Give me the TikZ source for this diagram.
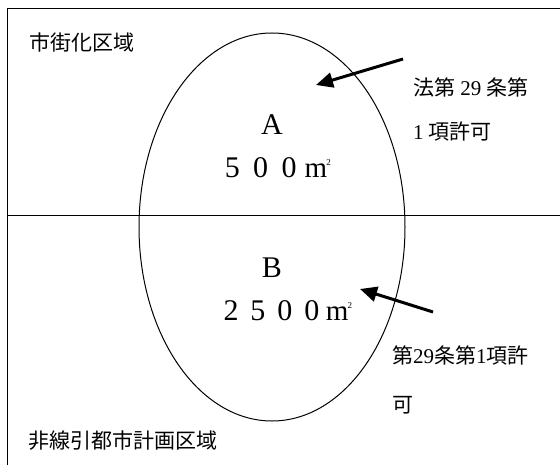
\documentclass[tikz,border=0pt]{standalone}
\usepackage{fontspec}
\setmainfont{Liberation Serif}
\newfontfamily\jp{Noto Sans CJK JP}
\usetikzlibrary{arrows.meta,shapes.geometric}
\newcommand\fwbox[2]{\makebox[#1]{#2}}
\newcommand\sqm[1]{\makebox[#1]{{\fontsize{29}{32}\selectfont m}\kern-1pt\raisebox{12pt}{\fontsize{9}{10}\selectfont 2}}}
\newcommand\lat[1]{{\rmfamily #1}}
\begin{document}
\begin{tikzpicture}[x=1pt,y=-1pt,
  jptext/.style={inner sep=0pt, anchor=west, font=\fontsize{21}{25}\selectfont\jp},
  bigtext/.style={inner sep=0pt, font=\fontsize{30}{34}\selectfont\rmfamily},
  pointer/.style={line width=3pt, -{Triangle[length=17pt,width=15pt]}},
  frameline/.style={line width=1.5pt}]
\useasboundingbox (0,0) rectangle (560,465);
\fill[white] (0,0) rectangle (560,465);
\coordinate (tl) at (7.5,8.5);
\coordinate (tr) at (561,8.5);
\coordinate (bl) at (7.5,466);
\coordinate (ml) at (7.5,215.5);
\coordinate (mr) at (561,215.5);
\draw[frameline] (bl) -- (tl) -- (tr);
\draw[frameline] (ml) -- (mr);
\node[draw, ellipse, inner sep=0pt, minimum width=266pt, minimum height=388pt, line width=1pt] (site) at (272,227) {};
\node[jptext] (shigai) at (29,43) {市街化区域};
\node[jptext] (hisen) at (28,441) {非線引都市計画区域};
\node[bigtext] (A) at (272,125) {A};
\node[bigtext] (areaA) at (275,168) {\fwbox{28.5pt}{5}\fwbox{28.5pt}{0}\fwbox{28.5pt}{0}\sqm{28.5pt}};
\node[bigtext] (B) at (272,268) {B};
\node[bigtext] (areaB) at (285,311) {\fwbox{27pt}{2}\fwbox{27pt}{5}\fwbox{27pt}{0}\fwbox{27pt}{0}\sqm{27pt}};
\node[jptext] (law1) at (413,87) {法第\lat{ 29 }条第};
\node[jptext] (law2) at (413,132) {\lat{1 }項許可};
\node[jptext] (law3) at (392,355) {第\lat{29}条第\lat{1}項許};
\node[jptext] (law4) at (392,405) {可};
\coordinate (t1) at (403,59);
\coordinate (h1) at (316,85);
\coordinate (t2) at (433,312);
\coordinate (h2) at (360,289);
\draw[pointer] (t1) -- (h1);
\draw[pointer] (t2) -- (h2);
\end{tikzpicture}
\end{document}
